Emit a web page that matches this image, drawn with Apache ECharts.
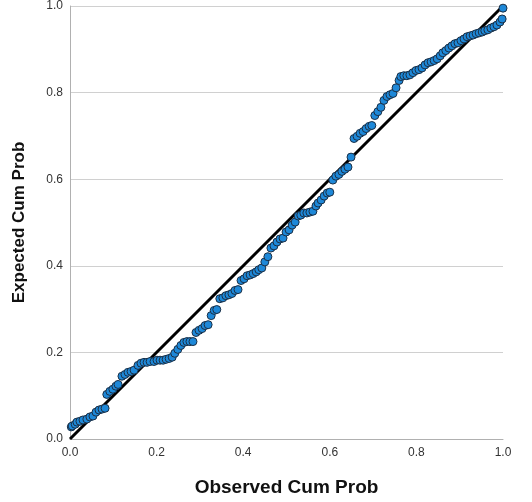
<!DOCTYPE html>
<html><head><meta charset="utf-8">
<script src="https://cdn.jsdelivr.net/npm/echarts@6/dist/echarts.min.js"></script>
<style>html,body{margin:0;padding:0;background:#fff}#c{width:532px;height:502px}</style>
</head><body><div id="c"></div>
<script>
const xTitle = "Observed Cum Prob";
const yTitle = "Expected Cum Prob";
const tickValues = [0, 0.2, 0.4, 0.6, 0.8, 1.0];
const observed = [0.003,0.005,0.012,0.016,0.023,0.030,0.039,0.046,0.053,0.060,0.067,0.074,0.081,0.085,0.092,0.099,0.106,0.111,0.120,0.127,0.134,0.141,0.148,0.157,0.164,0.171,0.178,0.185,0.194,0.201,0.208,0.215,0.222,0.229,0.236,0.242,0.249,0.256,0.263,0.270,0.277,0.284,0.291,0.298,0.305,0.312,0.319,0.326,0.333,0.339,0.346,0.353,0.360,0.367,0.374,0.381,0.388,0.395,0.402,0.409,0.416,0.423,0.430,0.436,0.443,0.450,0.457,0.464,0.471,0.478,0.485,0.492,0.499,0.506,0.513,0.520,0.527,0.533,0.540,0.547,0.554,0.561,0.568,0.573,0.580,0.587,0.594,0.600,0.607,0.614,0.621,0.628,0.635,0.642,0.649,0.656,0.663,0.670,0.677,0.684,0.691,0.697,0.704,0.711,0.718,0.725,0.732,0.739,0.746,0.753,0.760,0.764,0.771,0.778,0.785,0.792,0.799,0.806,0.813,0.820,0.827,0.834,0.841,0.848,0.855,0.861,0.868,0.875,0.882,0.889,0.896,0.903,0.910,0.917,0.924,0.931,0.938,0.945,0.952,0.958,0.965,0.972,0.979,0.986,0.993,0.998,1.000];
const expected = [0.028,0.030,0.034,0.039,0.041,0.044,0.046,0.051,0.053,0.062,0.067,0.069,0.071,0.103,0.110,0.115,0.122,0.126,0.145,0.149,0.154,0.156,0.159,0.170,0.175,0.177,0.177,0.179,0.179,0.182,0.182,0.182,0.184,0.186,0.189,0.198,0.207,0.216,0.223,0.225,0.225,0.225,0.246,0.251,0.255,0.262,0.264,0.285,0.297,0.299,0.324,0.326,0.331,0.333,0.336,0.343,0.345,0.366,0.370,0.377,0.379,0.382,0.386,0.391,0.395,0.409,0.421,0.441,0.446,0.455,0.462,0.464,0.478,0.483,0.494,0.501,0.515,0.517,0.522,0.522,0.524,0.526,0.538,0.545,0.552,0.561,0.568,0.570,0.598,0.607,0.611,0.618,0.623,0.628,0.651,0.694,0.699,0.706,0.710,0.717,0.722,0.724,0.747,0.756,0.766,0.782,0.791,0.795,0.798,0.811,0.828,0.837,0.839,0.839,0.841,0.846,0.851,0.853,0.857,0.864,0.869,0.871,0.874,0.878,0.885,0.892,0.897,0.903,0.908,0.913,0.915,0.920,0.924,0.929,0.931,0.933,0.936,0.938,0.940,0.943,0.945,0.949,0.952,0.956,0.963,0.970,0.995];
const refLine = [[0, 0], [1, 1]];

const points = observed.map((v, i) => [v, expected[i]]);
const chart = echarts.init(document.getElementById('c'), null, {renderer: 'canvas'});
const font = 'Liberation Sans, Arial, sans-serif';
chart.setOption({
  animation: false,
  backgroundColor: '#ffffff',
  grid: {left: 70, right: 29, top: 5, bottom: 62, containLabel: false},
  xAxis: {
    type: 'value', min: 0, max: 1, interval: 0.2,
    name: xTitle, nameLocation: 'middle', nameGap: 39,
    nameTextStyle: {fontFamily: font, fontSize: 19, fontWeight: 'bold', color: '#111'},
    axisLine: {show: true, lineStyle: {color: '#b0b0b0', width: 1}},
    axisTick: {show: false},
    axisLabel: {fontFamily: font, fontSize: 12, color: '#333', margin: 8, formatter: v => v.toFixed(1)},
    splitLine: {show: false}
  },
  yAxis: {
    type: 'value', min: 0, max: 1, interval: 0.2,
    name: yTitle, nameLocation: 'middle', nameGap: 42, nameRotate: 90,
    nameTextStyle: {fontFamily: font, fontSize: 17, fontWeight: 'bold', color: '#111'},
    axisLine: {show: true, lineStyle: {color: '#b0b0b0', width: 1}},
    axisTick: {show: false},
    axisLabel: {fontFamily: font, fontSize: 12, color: '#333', margin: 7, formatter: v => v.toFixed(1)},
    splitLine: {show: true, lineStyle: {color: '#d0d0d0', width: 1}}
  },
  series: [
    {type: 'line', data: refLine, symbol: 'none', lineStyle: {color: '#000', width: 3}, z: 2, silent: true},
    {type: 'scatter', data: points, symbol: 'circle', symbolSize: 8,
     itemStyle: {color: '#1e88d8', borderColor: '#1b2f45', borderWidth: 1, opacity: 1}, z: 3}
  ]
});
</script></body></html>
